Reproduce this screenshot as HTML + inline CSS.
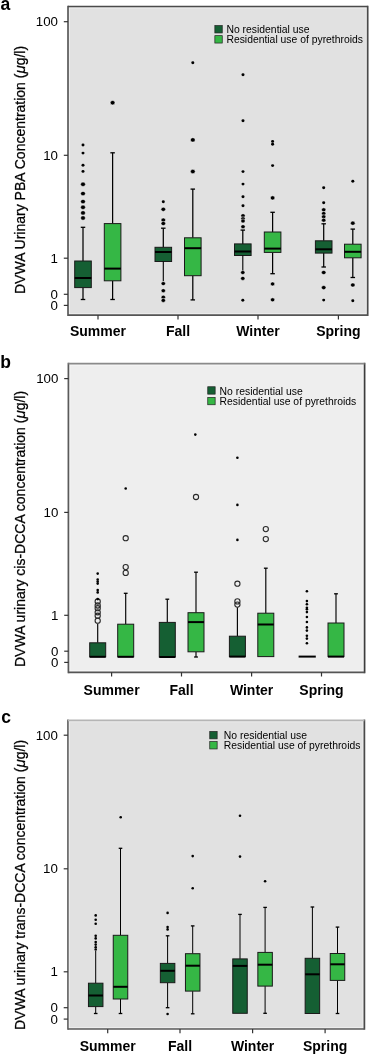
<!DOCTYPE html>
<html><head><meta charset="utf-8"><style>
html,body{margin:0;padding:0;background:#fff;width:370px;height:1055px;overflow:hidden}
svg{display:block;will-change:transform}
text{font-family:"Liberation Sans", sans-serif;fill:#000}
</style></head><body>
<svg width="370" height="1055" viewBox="0 0 370 1055">
<text x="0.5" y="10.2" font-size="17.5" font-weight="bold">a</text>
<rect x="68.0" y="6.5" width="299.7" height="308.7" fill="#e1e1e1"/>
<rect x="69.4" y="7.9" width="296.9" height="305.9" fill="none" stroke="#efefef" stroke-width="1"/>
<line x1="68.0" y1="5.65" x2="68.0" y2="316.05" stroke="#5a5a5a" stroke-width="1.7"/>
<line x1="367.7" y1="5.65" x2="367.7" y2="316.05" stroke="#4a4a4a" stroke-width="1.7"/>
<line x1="68.0" y1="6.5" x2="367.7" y2="6.5" stroke="#4a4a4a" stroke-width="1.7"/>
<line x1="68.0" y1="315.2" x2="367.7" y2="315.2" stroke="#555" stroke-width="1.7"/>
<line x1="63.8" y1="21.7" x2="68.0" y2="21.7" stroke="#333" stroke-width="1.2"/>
<text x="58.0" y="26.1" text-anchor="end" font-size="13.3">100</text>
<line x1="63.8" y1="155.3" x2="68.0" y2="155.3" stroke="#333" stroke-width="1.2"/>
<text x="58.0" y="159.70000000000002" text-anchor="end" font-size="13.3">10</text>
<line x1="63.8" y1="258.2" x2="68.0" y2="258.2" stroke="#333" stroke-width="1.2"/>
<text x="58.0" y="262.59999999999997" text-anchor="end" font-size="13.3">1</text>
<line x1="63.8" y1="294.3" x2="68.0" y2="294.3" stroke="#333" stroke-width="1.2"/>
<text x="58.0" y="298.7" text-anchor="end" font-size="13.3">0</text>
<line x1="63.8" y1="305.4" x2="68.0" y2="305.4" stroke="#333" stroke-width="1.2"/>
<text x="58.0" y="309.79999999999995" text-anchor="end" font-size="13.3">0</text>
<line x1="98" y1="315.2" x2="98" y2="319.4" stroke="#333" stroke-width="1.2"/>
<text x="98" y="336.2" text-anchor="middle" font-size="14" font-weight="bold">Summer</text>
<line x1="178" y1="315.2" x2="178" y2="319.4" stroke="#333" stroke-width="1.2"/>
<text x="178" y="336.2" text-anchor="middle" font-size="14" font-weight="bold">Fall</text>
<line x1="258" y1="315.2" x2="258" y2="319.4" stroke="#333" stroke-width="1.2"/>
<text x="258" y="336.2" text-anchor="middle" font-size="14" font-weight="bold">Winter</text>
<line x1="338.4" y1="315.2" x2="338.4" y2="319.4" stroke="#333" stroke-width="1.2"/>
<text x="338.4" y="336.2" text-anchor="middle" font-size="14" font-weight="bold">Spring</text>
<text transform="translate(24.6,294.0) rotate(-90)" font-size="14" stroke="#000" stroke-width="0.25">DVWA Urinary PBA Concentration (<tspan font-style="italic" font-size="15">μ</tspan>g/l)</text>
<rect x="214.85" y="25.55" width="7.4" height="7.4" fill="#155f33" stroke="#222" stroke-width="0.7"/>
<rect x="214.85" y="35.65" width="7.4" height="7.4" fill="#35b745" stroke="#222" stroke-width="0.7"/>
<text x="226.4" y="32.7" font-size="10.7" textLength="83.2" lengthAdjust="spacingAndGlyphs">No residential use</text>
<text x="226.4" y="43.1" font-size="10.7" textLength="136.6" lengthAdjust="spacingAndGlyphs">Residential use of pyrethroids</text>
<ellipse cx="83" cy="145" rx="1.5175000000000003" ry="1.4500000000000002" fill="#000"/>
<ellipse cx="83" cy="153.1" rx="1.5175000000000003" ry="1.4500000000000002" fill="#000"/>
<ellipse cx="83" cy="165.2" rx="1.5175000000000003" ry="1.4500000000000002" fill="#000"/>
<ellipse cx="83" cy="171.4" rx="1.5175000000000003" ry="1.4500000000000002" fill="#000"/>
<ellipse cx="83" cy="184.3" rx="2.4200000000000004" ry="2.2" fill="#000" stroke="#fff" stroke-width="0.5"/>
<ellipse cx="83" cy="193.6" rx="2.4200000000000004" ry="2.2" fill="#000" stroke="#fff" stroke-width="0.5"/>
<ellipse cx="83" cy="201.6" rx="2.4200000000000004" ry="2.2" fill="#000" stroke="#fff" stroke-width="0.5"/>
<ellipse cx="83" cy="207.3" rx="2.4200000000000004" ry="2.2" fill="#000" stroke="#fff" stroke-width="0.5"/>
<ellipse cx="83" cy="212.9" rx="2.4200000000000004" ry="2.2" fill="#000" stroke="#fff" stroke-width="0.5"/>
<ellipse cx="83" cy="218" rx="2.4200000000000004" ry="2.2" fill="#000" stroke="#fff" stroke-width="0.5"/>
<line x1="83" y1="227.3" x2="83" y2="261" stroke="#000" stroke-width="1.25"/>
<line x1="80.75" y1="227.3" x2="85.25" y2="227.3" stroke="#000" stroke-width="1.3"/>
<line x1="83" y1="287.6" x2="83" y2="299.5" stroke="#000" stroke-width="1.25"/>
<line x1="80.75" y1="299.5" x2="85.25" y2="299.5" stroke="#000" stroke-width="1.3"/>
<rect x="74.7" y="261" width="16.6" height="26.600000000000023" fill="#155f33" stroke="#1a1a1a" stroke-width="1"/>
<line x1="74.7" y1="278" x2="91.30000000000001" y2="278" stroke="#000" stroke-width="2"/>
<ellipse cx="112.6" cy="102.7" rx="2.4200000000000004" ry="2.2" fill="#000" stroke="#fff" stroke-width="0.5"/>
<line x1="112.6" y1="152.8" x2="112.6" y2="223.6" stroke="#000" stroke-width="1.25"/>
<line x1="110.35" y1="152.8" x2="114.85" y2="152.8" stroke="#000" stroke-width="1.3"/>
<line x1="112.6" y1="280.8" x2="112.6" y2="299.5" stroke="#000" stroke-width="1.25"/>
<line x1="110.35" y1="299.5" x2="114.85" y2="299.5" stroke="#000" stroke-width="1.3"/>
<rect x="104.3" y="223.6" width="16.6" height="57.20000000000002" fill="#35b745" stroke="#1a1a1a" stroke-width="1"/>
<line x1="104.3" y1="268.6" x2="120.9" y2="268.6" stroke="#000" stroke-width="2"/>
<ellipse cx="163.3" cy="201.8" rx="1.5175000000000003" ry="1.4500000000000002" fill="#000"/>
<ellipse cx="163.3" cy="209.3" rx="2.3100000000000005" ry="2.1" fill="#000" stroke="#fff" stroke-width="0.5"/>
<ellipse cx="163.3" cy="220.1" rx="2.3100000000000005" ry="2.1" fill="#000" stroke="#fff" stroke-width="0.5"/>
<ellipse cx="163.3" cy="223.5" rx="2.3100000000000005" ry="2.1" fill="#000" stroke="#fff" stroke-width="0.5"/>
<line x1="163.3" y1="228.2" x2="163.3" y2="247.3" stroke="#000" stroke-width="1.25"/>
<line x1="161.05" y1="228.2" x2="165.55" y2="228.2" stroke="#000" stroke-width="1.3"/>
<rect x="155.0" y="247.3" width="16.6" height="14.199999999999989" fill="#155f33" stroke="#1a1a1a" stroke-width="1"/>
<line x1="155.0" y1="252" x2="171.6" y2="252" stroke="#000" stroke-width="2"/>
<line x1="163.3" y1="261.5" x2="163.3" y2="281" stroke="#000" stroke-width="1.1"/>
<ellipse cx="163.3" cy="283.6" rx="2.2" ry="2.0" fill="#000" stroke="#fff" stroke-width="0.5"/>
<ellipse cx="163.3" cy="290.7" rx="2.2" ry="2.0" fill="#000" stroke="#fff" stroke-width="0.5"/>
<ellipse cx="163.3" cy="297.2" rx="2.2" ry="2.0" fill="#000" stroke="#fff" stroke-width="0.5"/>
<ellipse cx="163.3" cy="300.4" rx="2.2" ry="2.0" fill="#000" stroke="#fff" stroke-width="0.5"/>
<ellipse cx="192.8" cy="62.7" rx="1.5175000000000003" ry="1.4500000000000002" fill="#000"/>
<ellipse cx="192.8" cy="139.9" rx="2.4200000000000004" ry="2.2" fill="#000" stroke="#fff" stroke-width="0.5"/>
<ellipse cx="192.8" cy="171.5" rx="2.4200000000000004" ry="2.2" fill="#000" stroke="#fff" stroke-width="0.5"/>
<line x1="192.8" y1="189.1" x2="192.8" y2="237.8" stroke="#000" stroke-width="1.25"/>
<line x1="190.55" y1="189.1" x2="195.05" y2="189.1" stroke="#000" stroke-width="1.3"/>
<line x1="192.8" y1="275.7" x2="192.8" y2="299.9" stroke="#000" stroke-width="1.25"/>
<line x1="190.55" y1="299.9" x2="195.05" y2="299.9" stroke="#000" stroke-width="1.3"/>
<rect x="184.5" y="237.8" width="16.6" height="37.89999999999998" fill="#35b745" stroke="#1a1a1a" stroke-width="1"/>
<line x1="184.5" y1="248.2" x2="201.1" y2="248.2" stroke="#000" stroke-width="2"/>
<ellipse cx="243" cy="74.8" rx="1.5175000000000003" ry="1.4500000000000002" fill="#000"/>
<ellipse cx="243" cy="120.7" rx="1.5175000000000003" ry="1.4500000000000002" fill="#000"/>
<ellipse cx="243" cy="171.6" rx="1.5175000000000003" ry="1.4500000000000002" fill="#000"/>
<ellipse cx="243" cy="184.1" rx="1.5175000000000003" ry="1.4500000000000002" fill="#000"/>
<ellipse cx="243" cy="196.7" rx="1.5175000000000003" ry="1.4500000000000002" fill="#000"/>
<ellipse cx="243" cy="205.8" rx="1.5175000000000003" ry="1.4500000000000002" fill="#000"/>
<ellipse cx="243" cy="215.7" rx="2.2" ry="2.0" fill="#000" stroke="#fff" stroke-width="0.5"/>
<ellipse cx="243" cy="218.8" rx="2.2" ry="2.0" fill="#000" stroke="#fff" stroke-width="0.5"/>
<ellipse cx="243" cy="221.0" rx="2.2" ry="2.0" fill="#000" stroke="#fff" stroke-width="0.5"/>
<ellipse cx="243" cy="226.7" rx="2.2" ry="2.0" fill="#000" stroke="#fff" stroke-width="0.5"/>
<line x1="242.8" y1="230.1" x2="242.8" y2="243.9" stroke="#000" stroke-width="1.25"/>
<line x1="240.55" y1="230.1" x2="245.05" y2="230.1" stroke="#000" stroke-width="1.3"/>
<rect x="234.5" y="243.9" width="16.6" height="11.599999999999994" fill="#155f33" stroke="#1a1a1a" stroke-width="1"/>
<line x1="234.5" y1="251.5" x2="251.1" y2="251.5" stroke="#000" stroke-width="2"/>
<line x1="242.8" y1="255.5" x2="242.8" y2="271" stroke="#000" stroke-width="1.1"/>
<ellipse cx="242.8" cy="272.5" rx="2.2" ry="2.0" fill="#000" stroke="#fff" stroke-width="0.5"/>
<ellipse cx="242.8" cy="278.4" rx="2.2" ry="2.0" fill="#000" stroke="#fff" stroke-width="0.5"/>
<ellipse cx="242.8" cy="300.2" rx="1.5175000000000003" ry="1.4500000000000002" fill="#000"/>
<ellipse cx="272.6" cy="141.4" rx="1.5175000000000003" ry="1.4500000000000002" fill="#000"/>
<ellipse cx="272.6" cy="144.2" rx="1.5175000000000003" ry="1.4500000000000002" fill="#000"/>
<ellipse cx="272.6" cy="165.6" rx="1.5175000000000003" ry="1.4500000000000002" fill="#000"/>
<ellipse cx="272.6" cy="197.9" rx="2.3100000000000005" ry="2.1" fill="#000" stroke="#fff" stroke-width="0.5"/>
<line x1="272.6" y1="212.3" x2="272.6" y2="232" stroke="#000" stroke-width="1.25"/>
<line x1="270.35" y1="212.3" x2="274.85" y2="212.3" stroke="#000" stroke-width="1.3"/>
<line x1="272.6" y1="252.4" x2="272.6" y2="273.7" stroke="#000" stroke-width="1.25"/>
<line x1="270.35" y1="273.7" x2="274.85" y2="273.7" stroke="#000" stroke-width="1.3"/>
<rect x="264.3" y="232" width="16.6" height="20.400000000000006" fill="#35b745" stroke="#1a1a1a" stroke-width="1"/>
<line x1="264.3" y1="248.6" x2="280.90000000000003" y2="248.6" stroke="#000" stroke-width="2"/>
<ellipse cx="272.6" cy="283.9" rx="2.2" ry="2.0" fill="#000" stroke="#fff" stroke-width="0.5"/>
<ellipse cx="272.6" cy="299.8" rx="2.2" ry="2.0" fill="#000" stroke="#fff" stroke-width="0.5"/>
<ellipse cx="323.7" cy="187.8" rx="1.5175000000000003" ry="1.4500000000000002" fill="#000"/>
<ellipse cx="323.7" cy="202.8" rx="1.5175000000000003" ry="1.4500000000000002" fill="#000"/>
<ellipse cx="323.7" cy="209.8" rx="2.2" ry="2.0" fill="#000" stroke="#fff" stroke-width="0.5"/>
<ellipse cx="323.7" cy="213.5" rx="2.2" ry="2.0" fill="#000" stroke="#fff" stroke-width="0.5"/>
<ellipse cx="323.7" cy="216.8" rx="2.2" ry="2.0" fill="#000" stroke="#fff" stroke-width="0.5"/>
<ellipse cx="323.7" cy="220.2" rx="2.2" ry="2.0" fill="#000" stroke="#fff" stroke-width="0.5"/>
<line x1="323.7" y1="223.8" x2="323.7" y2="240.8" stroke="#000" stroke-width="1.25"/>
<line x1="321.45" y1="223.8" x2="325.95" y2="223.8" stroke="#000" stroke-width="1.3"/>
<line x1="323.7" y1="253.1" x2="323.7" y2="267.0" stroke="#000" stroke-width="1.25"/>
<line x1="321.45" y1="267.0" x2="325.95" y2="267.0" stroke="#000" stroke-width="1.3"/>
<rect x="315.4" y="240.8" width="16.6" height="12.299999999999983" fill="#155f33" stroke="#1a1a1a" stroke-width="1"/>
<line x1="315.4" y1="249.3" x2="332.0" y2="249.3" stroke="#000" stroke-width="2"/>
<ellipse cx="323.7" cy="272.5" rx="2.3100000000000005" ry="2.1" fill="#000" stroke="#fff" stroke-width="0.5"/>
<ellipse cx="323.7" cy="287.6" rx="2.3100000000000005" ry="2.1" fill="#000" stroke="#fff" stroke-width="0.5"/>
<ellipse cx="323.7" cy="300.1" rx="1.5175000000000003" ry="1.4500000000000002" fill="#000"/>
<ellipse cx="352.8" cy="181.2" rx="1.5175000000000003" ry="1.4500000000000002" fill="#000"/>
<ellipse cx="352.8" cy="223.2" rx="2.3100000000000005" ry="2.1" fill="#000" stroke="#fff" stroke-width="0.5"/>
<line x1="352.8" y1="229.1" x2="352.8" y2="244.2" stroke="#000" stroke-width="1.25"/>
<line x1="350.55" y1="229.1" x2="355.05" y2="229.1" stroke="#000" stroke-width="1.3"/>
<line x1="352.8" y1="257.8" x2="352.8" y2="277.5" stroke="#000" stroke-width="1.25"/>
<line x1="350.55" y1="277.5" x2="355.05" y2="277.5" stroke="#000" stroke-width="1.3"/>
<rect x="344.5" y="244.2" width="16.6" height="13.600000000000023" fill="#35b745" stroke="#1a1a1a" stroke-width="1"/>
<line x1="344.5" y1="251.8" x2="361.1" y2="251.8" stroke="#000" stroke-width="2"/>
<ellipse cx="352.8" cy="285" rx="2.3100000000000005" ry="2.1" fill="#000" stroke="#fff" stroke-width="0.5"/>
<ellipse cx="352.8" cy="300.7" rx="1.5175000000000003" ry="1.4500000000000002" fill="#000"/>
<text x="0.2" y="367.6" font-size="17.5" font-weight="bold">b</text>
<rect x="68.4" y="363.6" width="296.20000000000005" height="308.69999999999993" fill="#eeeeee"/>
<rect x="69.80000000000001" y="365.0" width="293.40000000000003" height="305.8999999999999" fill="none" stroke="#f8f8f8" stroke-width="1"/>
<line x1="68.4" y1="362.75" x2="68.4" y2="673.15" stroke="#5a5a5a" stroke-width="1.7"/>
<line x1="364.6" y1="362.75" x2="364.6" y2="673.15" stroke="#3c3c3c" stroke-width="1.7"/>
<line x1="68.4" y1="363.6" x2="364.6" y2="363.6" stroke="#8a8a8a" stroke-width="1.7"/>
<line x1="68.4" y1="672.3" x2="364.6" y2="672.3" stroke="#555" stroke-width="1.7"/>
<line x1="64.2" y1="378.6" x2="68.4" y2="378.6" stroke="#333" stroke-width="1.2"/>
<text x="58.400000000000006" y="383.0" text-anchor="end" font-size="13.3">100</text>
<line x1="64.2" y1="512.4" x2="68.4" y2="512.4" stroke="#333" stroke-width="1.2"/>
<text x="58.400000000000006" y="516.8" text-anchor="end" font-size="13.3">10</text>
<line x1="64.2" y1="615.3" x2="68.4" y2="615.3" stroke="#333" stroke-width="1.2"/>
<text x="58.400000000000006" y="619.6999999999999" text-anchor="end" font-size="13.3">1</text>
<line x1="64.2" y1="651.2" x2="68.4" y2="651.2" stroke="#333" stroke-width="1.2"/>
<text x="58.400000000000006" y="655.6" text-anchor="end" font-size="13.3">0</text>
<line x1="64.2" y1="662.4" x2="68.4" y2="662.4" stroke="#333" stroke-width="1.2"/>
<text x="58.400000000000006" y="666.8" text-anchor="end" font-size="13.3">0</text>
<line x1="111.6" y1="672.3" x2="111.6" y2="676.5" stroke="#333" stroke-width="1.2"/>
<text x="111.6" y="694.6" text-anchor="middle" font-size="14" font-weight="bold">Summer</text>
<line x1="181.5" y1="672.3" x2="181.5" y2="676.5" stroke="#333" stroke-width="1.2"/>
<text x="181.5" y="694.6" text-anchor="middle" font-size="14" font-weight="bold">Fall</text>
<line x1="251.6" y1="672.3" x2="251.6" y2="676.5" stroke="#333" stroke-width="1.2"/>
<text x="251.6" y="694.6" text-anchor="middle" font-size="14" font-weight="bold">Winter</text>
<line x1="321.5" y1="672.3" x2="321.5" y2="676.5" stroke="#333" stroke-width="1.2"/>
<text x="321.5" y="694.6" text-anchor="middle" font-size="14" font-weight="bold">Spring</text>
<text transform="translate(24.6,667.0) rotate(-90)" font-size="14" stroke="#000" stroke-width="0.25">DVWA urinary cis-DCCA concentration (<tspan font-style="italic" font-size="15">μ</tspan>g/l)</text>
<rect x="207.75" y="386.75" width="7.4" height="7.4" fill="#155f33" stroke="#222" stroke-width="0.7"/>
<rect x="207.75" y="397.35" width="7.4" height="7.4" fill="#35b745" stroke="#222" stroke-width="0.7"/>
<text x="219.6" y="394.5" font-size="10.7" textLength="83.2" lengthAdjust="spacingAndGlyphs">No residential use</text>
<text x="219.6" y="404.7" font-size="10.7" textLength="136.6" lengthAdjust="spacingAndGlyphs">Residential use of pyrethroids</text>
<line x1="97.7" y1="623.8" x2="97.7" y2="642.8" stroke="#000" stroke-width="1.15"/>
<rect x="89.7" y="642.8" width="16" height="14.0" fill="#155f33" stroke="#1a1a1a" stroke-width="1"/>
<line x1="89.7" y1="656.8" x2="105.7" y2="656.8" stroke="#000" stroke-width="2"/>
<circle cx="97.7" cy="601.5" r="2.6" fill="none" stroke="#2a2a2a" stroke-width="1.1"/>
<circle cx="97.7" cy="605.5" r="2.6" fill="none" stroke="#2a2a2a" stroke-width="1.1"/>
<circle cx="97.7" cy="608.2" r="2.6" fill="none" stroke="#2a2a2a" stroke-width="1.1"/>
<circle cx="97.7" cy="612.3" r="2.6" fill="none" stroke="#2a2a2a" stroke-width="1.1"/>
<circle cx="97.7" cy="615.7" r="2.6" fill="none" stroke="#2a2a2a" stroke-width="1.1"/>
<circle cx="97.7" cy="620.7" r="2.6" fill="none" stroke="#2a2a2a" stroke-width="1.1"/>
<circle cx="97.7" cy="573.6" r="1.3" fill="#000"/>
<circle cx="97.7" cy="579.5" r="1.3" fill="#000"/>
<circle cx="97.7" cy="581.6" r="1.3" fill="#000"/>
<circle cx="97.7" cy="583.6" r="1.3" fill="#000"/>
<circle cx="97.7" cy="590" r="1.3" fill="#000"/>
<circle cx="97.7" cy="592.4" r="1.3" fill="#000"/>
<circle cx="97.7" cy="599.1" r="1.3" fill="#000"/>
<circle cx="125.7" cy="488.5" r="1.3" fill="#000"/>
<circle cx="125.7" cy="538.2" r="2.6" fill="none" stroke="#2a2a2a" stroke-width="1.1"/>
<circle cx="125.7" cy="567.1" r="2.6" fill="none" stroke="#2a2a2a" stroke-width="1.1"/>
<circle cx="125.7" cy="572.9" r="2.6" fill="none" stroke="#2a2a2a" stroke-width="1.1"/>
<line x1="125.7" y1="593.3" x2="125.7" y2="624.2" stroke="#000" stroke-width="1.15"/>
<line x1="123.8" y1="593.3" x2="127.60000000000001" y2="593.3" stroke="#000" stroke-width="1.3"/>
<rect x="117.7" y="624.2" width="16" height="32.59999999999991" fill="#35b745" stroke="#1a1a1a" stroke-width="1"/>
<line x1="117.7" y1="656.8" x2="133.7" y2="656.8" stroke="#000" stroke-width="2"/>
<line x1="167.3" y1="599.2" x2="167.3" y2="622.4" stroke="#000" stroke-width="1.15"/>
<line x1="165.4" y1="599.2" x2="169.20000000000002" y2="599.2" stroke="#000" stroke-width="1.3"/>
<rect x="159.3" y="622.4" width="16" height="34.60000000000002" fill="#155f33" stroke="#1a1a1a" stroke-width="1"/>
<line x1="159.3" y1="657" x2="175.3" y2="657" stroke="#000" stroke-width="2"/>
<circle cx="195.3" cy="434.6" r="1.3" fill="#000"/>
<circle cx="196" cy="497" r="2.6" fill="none" stroke="#2a2a2a" stroke-width="1.1"/>
<line x1="196" y1="572.2" x2="196" y2="612.7" stroke="#000" stroke-width="1.15"/>
<line x1="194.1" y1="572.2" x2="197.9" y2="572.2" stroke="#000" stroke-width="1.3"/>
<line x1="196" y1="651.8" x2="196" y2="657" stroke="#000" stroke-width="1.15"/>
<line x1="194.1" y1="657" x2="197.9" y2="657" stroke="#000" stroke-width="1.3"/>
<rect x="188.0" y="612.7" width="16" height="39.09999999999991" fill="#35b745" stroke="#1a1a1a" stroke-width="1"/>
<line x1="188.0" y1="622.1" x2="204.0" y2="622.1" stroke="#000" stroke-width="2"/>
<circle cx="237.4" cy="457.8" r="1.3" fill="#000"/>
<circle cx="237.4" cy="504.9" r="1.3" fill="#000"/>
<circle cx="237.4" cy="539.9" r="1.3" fill="#000"/>
<circle cx="237.4" cy="583.7" r="2.6" fill="none" stroke="#2a2a2a" stroke-width="1.1"/>
<line x1="237.4" y1="607.2" x2="237.4" y2="636.2" stroke="#000" stroke-width="1.15"/>
<rect x="229.4" y="636.2" width="16" height="20.399999999999977" fill="#155f33" stroke="#1a1a1a" stroke-width="1"/>
<line x1="229.4" y1="656.6" x2="245.4" y2="656.6" stroke="#000" stroke-width="2"/>
<circle cx="237.4" cy="601.4" r="2.6" fill="none" stroke="#2a2a2a" stroke-width="1.1"/>
<circle cx="237.4" cy="604.6" r="2.6" fill="none" stroke="#2a2a2a" stroke-width="1.1"/>
<circle cx="265.8" cy="529.1" r="2.6" fill="none" stroke="#2a2a2a" stroke-width="1.1"/>
<circle cx="265.8" cy="539.1" r="2.6" fill="none" stroke="#2a2a2a" stroke-width="1.1"/>
<line x1="265.8" y1="568.2" x2="265.8" y2="613.2" stroke="#000" stroke-width="1.15"/>
<line x1="263.90000000000003" y1="568.2" x2="267.7" y2="568.2" stroke="#000" stroke-width="1.3"/>
<rect x="257.8" y="613.2" width="16" height="43.39999999999998" fill="#35b745" stroke="#1a1a1a" stroke-width="1"/>
<line x1="257.8" y1="624.5" x2="273.8" y2="624.5" stroke="#000" stroke-width="2"/>
<circle cx="306.9" cy="591.2" r="1.3" fill="#000"/>
<circle cx="306.9" cy="601.1" r="1.3" fill="#000"/>
<circle cx="306.9" cy="604.2" r="1.3" fill="#000"/>
<circle cx="306.9" cy="607.8" r="1.3" fill="#000"/>
<circle cx="306.9" cy="609.3" r="1.3" fill="#000"/>
<circle cx="306.9" cy="612.1" r="1.3" fill="#000"/>
<circle cx="306.9" cy="617" r="1.3" fill="#000"/>
<circle cx="306.9" cy="622" r="1.3" fill="#000"/>
<circle cx="306.9" cy="627.4" r="1.3" fill="#000"/>
<circle cx="306.9" cy="630.6" r="1.3" fill="#000"/>
<circle cx="306.9" cy="635.8" r="1.3" fill="#000"/>
<circle cx="306.9" cy="638.6" r="1.3" fill="#000"/>
<circle cx="306.9" cy="643.2" r="1.3" fill="#000"/>
<line x1="298.6" y1="656.6" x2="315.8" y2="656.6" stroke="#000" stroke-width="2"/>
<line x1="336" y1="593.8" x2="336" y2="623" stroke="#000" stroke-width="1.15"/>
<line x1="334.1" y1="593.8" x2="337.9" y2="593.8" stroke="#000" stroke-width="1.3"/>
<rect x="328.0" y="623" width="16" height="33.60000000000002" fill="#35b745" stroke="#1a1a1a" stroke-width="1"/>
<line x1="328.0" y1="656.6" x2="344.0" y2="656.6" stroke="#000" stroke-width="2"/>
<text x="1.2" y="722.8" font-size="17.5" font-weight="bold">c</text>
<rect x="67.9" y="720.3" width="296.5" height="308.70000000000005" fill="#e1e1e1"/>
<rect x="69.30000000000001" y="721.6999999999999" width="293.7" height="305.90000000000003" fill="none" stroke="#efefef" stroke-width="1"/>
<line x1="67.9" y1="719.4499999999999" x2="67.9" y2="1029.85" stroke="#6a6a6a" stroke-width="1.7"/>
<line x1="364.4" y1="719.4499999999999" x2="364.4" y2="1029.85" stroke="#4a4a4a" stroke-width="1.7"/>
<line x1="67.9" y1="720.3" x2="364.4" y2="720.3" stroke="#b5b5b5" stroke-width="1.7"/>
<line x1="67.9" y1="1029" x2="364.4" y2="1029" stroke="#5a5a5a" stroke-width="1.7"/>
<line x1="63.7" y1="735.2" x2="67.9" y2="735.2" stroke="#333" stroke-width="1.2"/>
<text x="57.900000000000006" y="739.6" text-anchor="end" font-size="13.3">100</text>
<line x1="63.7" y1="868.8" x2="67.9" y2="868.8" stroke="#333" stroke-width="1.2"/>
<text x="57.900000000000006" y="873.1999999999999" text-anchor="end" font-size="13.3">10</text>
<line x1="63.7" y1="971.8" x2="67.9" y2="971.8" stroke="#333" stroke-width="1.2"/>
<text x="57.900000000000006" y="976.1999999999999" text-anchor="end" font-size="13.3">1</text>
<line x1="63.7" y1="1007.7" x2="67.9" y2="1007.7" stroke="#333" stroke-width="1.2"/>
<text x="57.900000000000006" y="1012.1" text-anchor="end" font-size="13.3">0</text>
<line x1="63.7" y1="1019.1" x2="67.9" y2="1019.1" stroke="#333" stroke-width="1.2"/>
<text x="57.900000000000006" y="1023.5" text-anchor="end" font-size="13.3">0</text>
<line x1="107.7" y1="1029" x2="107.7" y2="1033.2" stroke="#333" stroke-width="1.2"/>
<text x="107.7" y="1050.5" text-anchor="middle" font-size="14" font-weight="bold">Summer</text>
<line x1="180" y1="1029" x2="180" y2="1033.2" stroke="#333" stroke-width="1.2"/>
<text x="180" y="1050.5" text-anchor="middle" font-size="14" font-weight="bold">Fall</text>
<line x1="252.6" y1="1029" x2="252.6" y2="1033.2" stroke="#333" stroke-width="1.2"/>
<text x="252.6" y="1050.5" text-anchor="middle" font-size="14" font-weight="bold">Winter</text>
<line x1="325.1" y1="1029" x2="325.1" y2="1033.2" stroke="#333" stroke-width="1.2"/>
<text x="325.1" y="1050.5" text-anchor="middle" font-size="14" font-weight="bold">Spring</text>
<text transform="translate(24.6,1030.0) rotate(-90)" font-size="14" stroke="#000" stroke-width="0.25">DVWA urinary trans-DCCA concentration (<tspan font-style="italic" font-size="15">μ</tspan>g/l)</text>
<rect x="209.75" y="731.45" width="7.4" height="7.4" fill="#155f33" stroke="#222" stroke-width="0.7"/>
<rect x="209.75" y="741.5500000000001" width="7.4" height="7.4" fill="#35b745" stroke="#222" stroke-width="0.7"/>
<text x="223.8" y="738.7" font-size="10.7" textLength="83.2" lengthAdjust="spacingAndGlyphs">No residential use</text>
<text x="223.8" y="749.4" font-size="10.7" textLength="136.6" lengthAdjust="spacingAndGlyphs">Residential use of pyrethroids</text>
<circle cx="95.7" cy="915.4" r="1.3" fill="#000"/>
<circle cx="95.7" cy="919.7" r="1.3" fill="#000"/>
<circle cx="95.7" cy="923.8" r="1.3" fill="#000"/>
<circle cx="95.7" cy="935.8" r="1.3" fill="#000"/>
<circle cx="95.7" cy="938.4" r="1.3" fill="#000"/>
<circle cx="95.7" cy="942" r="1.3" fill="#000"/>
<circle cx="95.7" cy="944.6" r="1.3" fill="#000"/>
<circle cx="95.7" cy="947.2" r="1.3" fill="#000"/>
<circle cx="95.7" cy="949.5" r="1.3" fill="#000"/>
<line x1="95.7" y1="951" x2="95.7" y2="983.2" stroke="#000" stroke-width="1.0"/>
<line x1="95.7" y1="1006.6" x2="95.7" y2="1013.5" stroke="#000" stroke-width="1.0"/>
<line x1="93.9" y1="1013.5" x2="97.5" y2="1013.5" stroke="#000" stroke-width="1.3"/>
<rect x="88.45" y="983.2" width="14.5" height="23.399999999999977" fill="#155f33" stroke="#1a1a1a" stroke-width="1"/>
<line x1="88.45" y1="995.5" x2="102.95" y2="995.5" stroke="#000" stroke-width="2"/>
<circle cx="120.7" cy="817.2" r="1.3" fill="#000"/>
<line x1="120.5" y1="848.3" x2="120.5" y2="935.3" stroke="#000" stroke-width="1.0"/>
<line x1="118.7" y1="848.3" x2="122.3" y2="848.3" stroke="#000" stroke-width="1.3"/>
<line x1="120.5" y1="999" x2="120.5" y2="1013.5" stroke="#000" stroke-width="1.0"/>
<line x1="118.7" y1="1013.5" x2="122.3" y2="1013.5" stroke="#000" stroke-width="1.3"/>
<rect x="113.25" y="935.3" width="14.5" height="63.700000000000045" fill="#35b745" stroke="#1a1a1a" stroke-width="1"/>
<line x1="113.25" y1="986.8" x2="127.75" y2="986.8" stroke="#000" stroke-width="2"/>
<circle cx="167.6" cy="912.9" r="1.3" fill="#000"/>
<circle cx="167.6" cy="927" r="1.3" fill="#000"/>
<circle cx="167.6" cy="929.4" r="1.3" fill="#000"/>
<line x1="167.6" y1="935.8" x2="167.6" y2="963.4" stroke="#000" stroke-width="1.0"/>
<line x1="165.79999999999998" y1="935.8" x2="169.4" y2="935.8" stroke="#000" stroke-width="1.3"/>
<line x1="167.6" y1="982.7" x2="167.6" y2="1007.7" stroke="#000" stroke-width="1.0"/>
<line x1="165.79999999999998" y1="1007.7" x2="169.4" y2="1007.7" stroke="#000" stroke-width="1.3"/>
<rect x="160.35" y="963.4" width="14.5" height="19.300000000000068" fill="#155f33" stroke="#1a1a1a" stroke-width="1"/>
<line x1="160.35" y1="970.8" x2="174.85" y2="970.8" stroke="#000" stroke-width="2"/>
<circle cx="167.6" cy="1014" r="1.3" fill="#000"/>
<circle cx="192.7" cy="856.1" r="1.3" fill="#000"/>
<circle cx="192.7" cy="888.3" r="1.3" fill="#000"/>
<line x1="192.7" y1="925.9" x2="192.7" y2="953.7" stroke="#000" stroke-width="1.0"/>
<line x1="190.89999999999998" y1="925.9" x2="194.5" y2="925.9" stroke="#000" stroke-width="1.3"/>
<line x1="192.7" y1="991.1" x2="192.7" y2="1013.8" stroke="#000" stroke-width="1.0"/>
<line x1="190.89999999999998" y1="1013.8" x2="194.5" y2="1013.8" stroke="#000" stroke-width="1.3"/>
<rect x="185.45" y="953.7" width="14.5" height="37.39999999999998" fill="#35b745" stroke="#1a1a1a" stroke-width="1"/>
<line x1="185.45" y1="965.7" x2="199.95" y2="965.7" stroke="#000" stroke-width="2"/>
<circle cx="240" cy="815.8" r="1.3" fill="#000"/>
<circle cx="240" cy="856.6" r="1.3" fill="#000"/>
<line x1="240" y1="914.4" x2="240" y2="958.9" stroke="#000" stroke-width="1.0"/>
<line x1="238.2" y1="914.4" x2="241.8" y2="914.4" stroke="#000" stroke-width="1.3"/>
<rect x="232.75" y="958.9" width="14.5" height="54.39999999999998" fill="#155f33" stroke="#1a1a1a" stroke-width="1"/>
<line x1="232.75" y1="965.9" x2="247.25" y2="965.9" stroke="#000" stroke-width="2"/>
<circle cx="265.1" cy="881.3" r="1.3" fill="#000"/>
<line x1="265.1" y1="907.4" x2="265.1" y2="952.4" stroke="#000" stroke-width="1.0"/>
<line x1="263.3" y1="907.4" x2="266.90000000000003" y2="907.4" stroke="#000" stroke-width="1.3"/>
<line x1="265.1" y1="986.1" x2="265.1" y2="1013.3" stroke="#000" stroke-width="1.0"/>
<line x1="263.3" y1="1013.3" x2="266.90000000000003" y2="1013.3" stroke="#000" stroke-width="1.3"/>
<rect x="257.85" y="952.4" width="14.5" height="33.700000000000045" fill="#35b745" stroke="#1a1a1a" stroke-width="1"/>
<line x1="257.85" y1="964.7" x2="272.35" y2="964.7" stroke="#000" stroke-width="2"/>
<line x1="312.4" y1="907" x2="312.4" y2="958.3" stroke="#000" stroke-width="1.0"/>
<line x1="310.59999999999997" y1="907" x2="314.2" y2="907" stroke="#000" stroke-width="1.3"/>
<rect x="305.15" y="958.3" width="14.5" height="55.200000000000045" fill="#155f33" stroke="#1a1a1a" stroke-width="1"/>
<line x1="305.15" y1="974.3" x2="319.65" y2="974.3" stroke="#000" stroke-width="2"/>
<line x1="337.5" y1="927.1" x2="337.5" y2="953.5" stroke="#000" stroke-width="1.0"/>
<line x1="335.7" y1="927.1" x2="339.3" y2="927.1" stroke="#000" stroke-width="1.3"/>
<line x1="337.5" y1="980.4" x2="337.5" y2="1013.5" stroke="#000" stroke-width="1.0"/>
<line x1="335.7" y1="1013.5" x2="339.3" y2="1013.5" stroke="#000" stroke-width="1.3"/>
<rect x="330.25" y="953.5" width="14.5" height="26.899999999999977" fill="#35b745" stroke="#1a1a1a" stroke-width="1"/>
<line x1="330.25" y1="964.3" x2="344.75" y2="964.3" stroke="#000" stroke-width="2"/>
</svg>
</body></html>
